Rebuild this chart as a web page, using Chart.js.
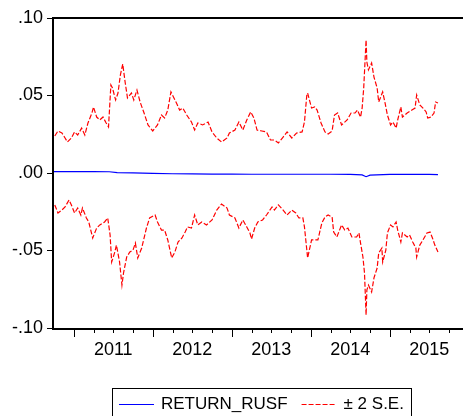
<!DOCTYPE html>
<html>
<head>
<meta charset="utf-8">
<script src="https://cdn.jsdelivr.net/npm/chart.js@4.4.1/dist/chart.umd.min.js"></script>
<style>
  html, body { margin: 0; padding: 0; background: #fff; overflow: hidden; }
  #wrap { width: 470px; height: 416px; }
</style>
</head>
<body>
<div id="wrap"><canvas id="chart" width="470" height="416"></canvas></div>
<script>
// ===== Data (dates as fractional years) =====

// upper band: forecast + 2 S.E.
const upperDates = [2010.76, 2010.80, 2010.85, 2010.89, 2010.92, 2010.97, 2011.01, 2011.05, 2011.10, 2011.14,
  2011.18, 2011.23, 2011.25, 2011.29, 2011.33, 2011.37, 2011.41, 2011.44, 2011.47, 2011.49,
  2011.53, 2011.56, 2011.59, 2011.62, 2011.65, 2011.68, 2011.73, 2011.76, 2011.80, 2011.84,
  2011.89, 2011.94, 2012.00, 2012.06, 2012.11, 2012.15, 2012.19, 2012.23, 2012.25, 2012.30,
  2012.34, 2012.38, 2012.43, 2012.49, 2012.53, 2012.57, 2012.63, 2012.70, 2012.75, 2012.81,
  2012.87, 2012.94, 2012.97, 2013.04, 2013.09, 2013.14, 2013.19, 2013.24, 2013.28, 2013.32,
  2013.38, 2013.44, 2013.49, 2013.54, 2013.59, 2013.65, 2013.70, 2013.76, 2013.82, 2013.89,
  2013.92, 2013.95, 2013.96, 2014.01, 2014.05, 2014.08, 2014.13, 2014.18, 2014.22, 2014.27,
  2014.30, 2014.34, 2014.39, 2014.46, 2014.51, 2014.56, 2014.59, 2014.63, 2014.65, 2014.67,
  2014.70, 2014.71, 2014.73, 2014.77, 2014.80, 2014.84, 2014.86, 2014.91, 2014.94, 2014.97,
  2015.01, 2015.04, 2015.08, 2015.10, 2015.14, 2015.16, 2015.22, 2015.28, 2015.32, 2015.34,
  2015.38, 2015.42, 2015.46, 2015.48, 2015.52, 2015.56, 2015.58, 2015.61];
const upperBand = [0.0239, 0.0271, 0.0258, 0.0226, 0.0200, 0.0226, 0.0265, 0.0245, 0.0290, 0.0245,
  0.0323, 0.0387, 0.0426, 0.0361, 0.0342, 0.0361, 0.0323, 0.0297, 0.0568, 0.0548,
  0.0471, 0.0516, 0.0632, 0.0703, 0.0587, 0.0484, 0.0516, 0.0471, 0.0535, 0.0458,
  0.0387, 0.0310, 0.0271, 0.0310, 0.0374, 0.0355, 0.0406, 0.0523, 0.0503, 0.0452,
  0.0406, 0.0419, 0.0374, 0.0329, 0.0277, 0.0323, 0.0310, 0.0329, 0.0265, 0.0226,
  0.0200, 0.0226, 0.0258, 0.0277, 0.0329, 0.0277, 0.0342, 0.0394, 0.0355, 0.0277,
  0.0271, 0.0265, 0.0213, 0.0213, 0.0194, 0.0232, 0.0265, 0.0226, 0.0258, 0.0265,
  0.0329, 0.0503, 0.0516, 0.0419, 0.0426, 0.0406, 0.0323, 0.0265, 0.0252, 0.0271,
  0.0374, 0.0387, 0.0310, 0.0342, 0.0387, 0.0387, 0.0406, 0.0361, 0.0419, 0.0548,
  0.0858, 0.0716, 0.0665, 0.0710, 0.0619, 0.0548, 0.0458, 0.0523, 0.0452, 0.0374,
  0.0310, 0.0329, 0.0290, 0.0342, 0.0426, 0.0361, 0.0387, 0.0406, 0.0419, 0.0503,
  0.0439, 0.0419, 0.0394, 0.0355, 0.0361, 0.0387, 0.0458, 0.0452];

// lower band: forecast - 2 S.E.
const lowerDates = [2010.76, 2010.80, 2010.85, 2010.89, 2010.94, 2010.97, 2011.01, 2011.05, 2011.09, 2011.11,
  2011.16, 2011.19, 2011.24, 2011.29, 2011.33, 2011.37, 2011.39, 2011.43, 2011.46, 2011.48,
  2011.52, 2011.54, 2011.58, 2011.61, 2011.63, 2011.67, 2011.71, 2011.75, 2011.78, 2011.81,
  2011.86, 2011.92, 2011.96, 2012.03, 2012.06, 2012.11, 2012.15, 2012.19, 2012.24, 2012.28,
  2012.32, 2012.37, 2012.41, 2012.44, 2012.49, 2012.53, 2012.57, 2012.62, 2012.68, 2012.75,
  2012.81, 2012.87, 2012.94, 2012.97, 2013.04, 2013.09, 2013.14, 2013.19, 2013.23, 2013.25,
  2013.29, 2013.33, 2013.39, 2013.44, 2013.51, 2013.54, 2013.59, 2013.65, 2013.70, 2013.76,
  2013.81, 2013.85, 2013.90, 2013.92, 2013.95, 2013.96, 2014.01, 2014.05, 2014.09, 2014.14,
  2014.18, 2014.22, 2014.27, 2014.29, 2014.33, 2014.39, 2014.43, 2014.47, 2014.52, 2014.58,
  2014.61, 2014.63, 2014.66, 2014.68, 2014.70, 2014.71, 2014.73, 2014.77, 2014.80, 2014.84,
  2014.86, 2014.90, 2014.91, 2014.95, 2014.97, 2015.01, 2015.04, 2015.08, 2015.10, 2015.14,
  2015.16, 2015.22, 2015.25, 2015.29, 2015.33, 2015.34, 2015.38, 2015.42, 2015.47, 2015.51,
  2015.54, 2015.57, 2015.61];
const lowerBand = [-0.0206, -0.0258, -0.0239, -0.0219, -0.0174, -0.0206, -0.0258, -0.0226, -0.0271, -0.0226,
  -0.0290, -0.0316, -0.0419, -0.0355, -0.0335, -0.0323, -0.0316, -0.0290, -0.0400, -0.0574,
  -0.0510, -0.0465, -0.0574, -0.0723, -0.0645, -0.0542, -0.0510, -0.0497, -0.0452, -0.0548,
  -0.0484, -0.0355, -0.0290, -0.0271, -0.0316, -0.0368, -0.0368, -0.0432, -0.0548, -0.0510,
  -0.0445, -0.0419, -0.0381, -0.0348, -0.0355, -0.0271, -0.0335, -0.0316, -0.0335, -0.0303,
  -0.0239, -0.0200, -0.0226, -0.0271, -0.0290, -0.0355, -0.0303, -0.0348, -0.0387, -0.0426,
  -0.0355, -0.0316, -0.0303, -0.0271, -0.0219, -0.0239, -0.0206, -0.0239, -0.0271, -0.0239,
  -0.0258, -0.0290, -0.0290, -0.0348, -0.0497, -0.0548, -0.0432, -0.0432, -0.0432, -0.0323,
  -0.0284, -0.0271, -0.0284, -0.0381, -0.0413, -0.0335, -0.0368, -0.0355, -0.0413, -0.0413,
  -0.0387, -0.0452, -0.0542, -0.0645, -0.0916, -0.0755, -0.0723, -0.0768, -0.0677, -0.0613,
  -0.0516, -0.0484, -0.0574, -0.0497, -0.0387, -0.0335, -0.0348, -0.0316, -0.0368, -0.0445,
  -0.0387, -0.0413, -0.0400, -0.0445, -0.0484, -0.0542, -0.0465, -0.0432, -0.0387, -0.0381,
  -0.0419, -0.0465, -0.0510];

// forecast RETURN_RUSF
const fitDates = [2010.75, 2011.00, 2011.25, 2011.45, 2011.55, 2011.75, 2012.00, 2012.25, 2012.50, 2012.75,
  2013.00, 2013.25, 2013.50, 2013.75, 2014.00, 2014.25, 2014.50, 2014.65, 2014.70, 2014.75,
  2015.00, 2015.25, 2015.50, 2015.61];
const fitLine = [0.0009, 0.0009, 0.0009, 0.0008, 0.0003, 0.0001, -0.0003, -0.0005, -0.0006, -0.0007,
  -0.0007, -0.0008, -0.0008, -0.0008, -0.0008, -0.0008, -0.0009, -0.0012, -0.0024, -0.0014,
  -0.0009, -0.0009, -0.0009, -0.0010];

const yearLabels = [2011, 2012, 2013, 2014, 2015];
const seriesNames = ["RETURN_RUSF", "\u00b1 2 S.E."];

// ===== Helpers =====
const toPoints = (xs, ys) => xs.map((x, i) => ({ x: x, y: ys[i] }));

function fmtY(v) {
  const s = Math.abs(v).toFixed(2).replace(/^0/, "");
  return (v < -1e-9 ? "-" : "") + s;
}

// frame, quarterly tick marks and the boxed legend
const evFrame = {
  id: "evFrame",
  afterDraw(chart) {
    const ctx = chart.ctx;
    const a = chart.chartArea;
    const xs = chart.scales.x;
    ctx.save();
    ctx.strokeStyle = "#000";
    ctx.lineWidth = 2;
    ctx.strokeRect(a.left - 1, a.top, a.right - a.left + 1, a.bottom - a.top + 1);

    // quarter ticks below the axis
    ctx.lineWidth = 1;
    ctx.beginPath();
    for (let y = yearLabels[0] - 1; y <= yearLabels[yearLabels.length - 1] + 1; y++) {
      for (let q = 0; q < 4; q++) {
        const v = y + q / 4;
        if (v <= xs.min || v >= xs.max) continue;
        const px = Math.round(xs.getPixelForValue(v)) + 0.5;
        const len = q === 0 ? 8 : 4;
        ctx.moveTo(px, a.bottom + 1);
        ctx.lineTo(px, a.bottom + 1 + len);
      }
    }
    ctx.stroke();

    // legend
    const ds = chart.data.datasets;
    ctx.font = '17px "Liberation Sans", Arial, sans-serif';
    ctx.textBaseline = "middle";
    const pad = 7, lineLen = 35, gap = 7, itemGap = 14;
    const w0 = lineLen + gap + ctx.measureText(seriesNames[0]).width;
    const w1 = lineLen + gap + ctx.measureText(seriesNames[1]).width;
    const total = pad + w0 + itemGap + w1 + pad;
    let x = Math.round((a.left + a.right) / 2 - total / 2);
    const top = 388, mid = 404;
    ctx.lineWidth = 1;
    ctx.strokeStyle = "#000";
    ctx.strokeRect(x + 0.5, top + 0.5, Math.round(total), 40);
    x += pad;
    [0, 1].forEach(i => {
      ctx.strokeStyle = ds[i].borderColor;
      ctx.lineWidth = ds[i].borderWidth;
      ctx.setLineDash(ds[i].borderDash || []);
      ctx.beginPath();
      ctx.moveTo(x, mid + 0.5);
      ctx.lineTo(x + lineLen, mid + 0.5);
      ctx.stroke();
      ctx.setLineDash([]);
      ctx.fillStyle = "#000";
      ctx.fillText(seriesNames[i], x + lineLen + gap, mid);
      x += (i === 0 ? w0 : w1) + itemGap;
    });
    ctx.restore();
  }
};

// ===== Chart =====
const ctx = document.getElementById("chart").getContext("2d");
const chart = new Chart(ctx, {
  type: "line",
  data: {
    datasets: [
      {
        label: seriesNames[0],
        data: toPoints(fitDates, fitLine),
        borderColor: "#0000ff",
        borderWidth: 1.2,
        pointRadius: 0
      },
      {
        label: seriesNames[1],
        data: toPoints(upperDates, upperBand),
        borderColor: "#ff0000",
        borderWidth: 1.2,
        borderDash: [5, 2],
        pointRadius: 0
      },
      {
        label: seriesNames[1],
        data: toPoints(lowerDates, lowerBand),
        borderColor: "#ff0000",
        borderWidth: 1.2,
        borderDash: [5, 2],
        pointRadius: 0
      }
    ]
  },
  options: {
    responsive: false,
    animation: false,
    layout: { padding: { top: 18, right: 2, bottom: 0, left: 0 } },
    plugins: {
      legend: { display: false },
      tooltip: { enabled: false }
    },
    scales: {
      x: {
        type: "linear",
        min: 2010.75,
        max: 2015.99,
        afterFit: s => { s.height = 88; },
        afterBuildTicks: s => { s.ticks = yearLabels.map(y => ({ value: y + 0.5 })); },
        grid: { display: true, drawOnChartArea: false, drawTicks: false },
        border: { display: false },
        ticks: {
          autoSkip: false,
          maxRotation: 0,
          padding: 11,
          color: "#000",
          font: { family: '"Liberation Sans", Arial, sans-serif', size: 18 },
          callback: v => String(Math.floor(v))
        }
      },
      y: {
        min: -0.1,
        max: 0.1,
        afterFit: s => { s.width = 54; },
        grid: { drawOnChartArea: false, drawTicks: true, tickLength: 7, color: "#000" },
        border: { display: false },
        ticks: {
          stepSize: 0.05,
          padding: 4,
          color: "#000",
          font: { family: '"Liberation Sans", Arial, sans-serif', size: 18 },
          callback: v => fmtY(v)
        }
      }
    }
  },
  plugins: [evFrame]
});
</script>
</body>
</html>
